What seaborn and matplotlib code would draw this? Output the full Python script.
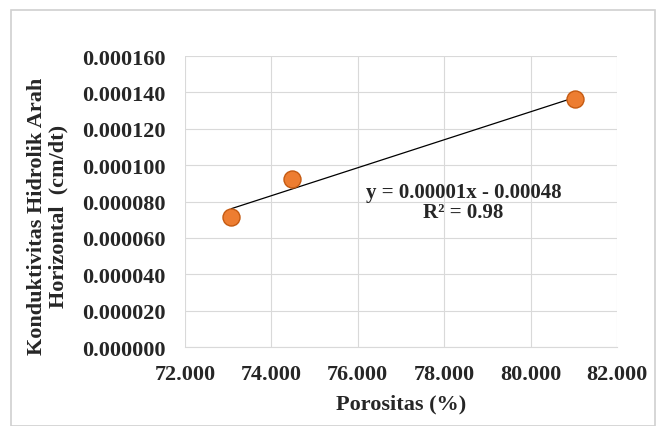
import numpy as np
import pandas as pd
import seaborn as sns
import matplotlib.pyplot as plt
from matplotlib.patches import Rectangle

porositas = [73.07, 74.48, 81.02]
konduktivitas = [0.0000715, 0.0000924, 0.0001362]
x_ticks = [72, 74, 76, 78, 80, 82]
y_ticks = [0, 0.00002, 0.00004, 0.00006, 0.00008, 0.0001, 0.00012, 0.00014, 0.00016]
equation_text = "y = 0.00001x - 0.00048"
r2_text = "R² = 0.98"

df = pd.DataFrame({"Porositas": porositas, "K": konduktivitas})

sns.set_style("white")
plt.rcParams['font.family'] = ['Liberation Serif', 'DejaVu Serif']
plt.rcParams['font.weight'] = 'bold'

fig = plt.figure(figsize=(6.59, 4.27), dpi=100)
ax = fig.add_axes([0.2807, 0.185, 0.6556, 0.6815])

sns.regplot(data=df, x="Porositas", y="K", ax=ax, ci=None,
            scatter_kws=dict(s=150, color="#ED7D31", edgecolors="#C55A11", linewidths=1.0, zorder=3, alpha=1),
            line_kws=dict(color="black", lw=0.9, zorder=2))

ax.set_xlim(72, 82)
ax.set_ylim(0, 0.00016)
ax.set_xticks(x_ticks)
ax.set_yticks(y_ticks)
ax.set_xticklabels([f"{v:.3f}" for v in x_ticks], fontsize=16, fontweight='bold', color='#262626')
ax.set_yticklabels([f"{v:.6f}" for v in y_ticks], fontsize=16, fontweight='bold', color='#262626')
ax.tick_params(axis='y', length=0, pad=14)
ax.tick_params(axis='x', length=0, pad=12)
ax.grid(True, color='#d9d9d9', lw=0.8)
for s in ax.spines.values():
    s.set_visible(False)
ax.spines['bottom'].set_visible(True)
ax.spines['bottom'].set_color('#d9d9d9')

ax.set_xlabel("Porositas (%)", fontsize=16, fontweight='bold', color='#262626', labelpad=7)
ax.set_ylabel("Konduktivitas Hidrolik Arah\nHorizontal  (cm/dt)", fontsize=16, fontweight='bold',
              color='#262626', labelpad=10, linespacing=1.05)
ax.yaxis.label.set_y(0.452)

ax.text(78.45, 0.0000855, equation_text, ha='center', va='center', fontsize=15, fontweight='bold', color='#262626')
ax.text(78.45, 0.0000745, r2_text, ha='center', va='center', fontsize=15, fontweight='bold', color='#262626')

fig.patches.append(Rectangle((11/659, 0.0), (655-11)/659, 1-11/427, transform=fig.transFigure,
                             fill=False, edgecolor='#d0d0d0', lw=1.2))

fig.savefig("out.png", dpi=100)
